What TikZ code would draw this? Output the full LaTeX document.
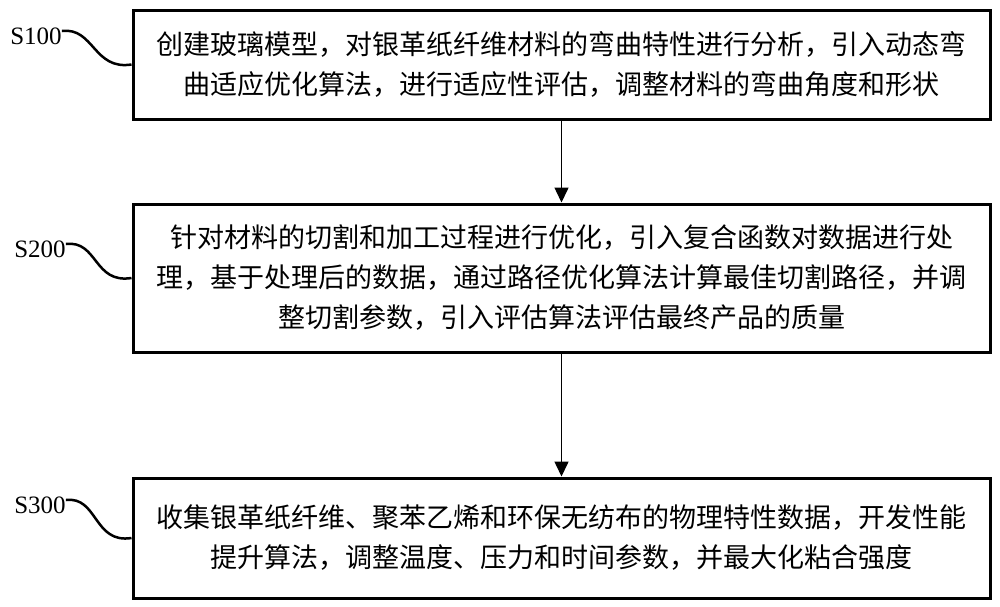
\documentclass[tikz,border=0pt]{standalone}
\usepackage{fontspec}
\setmainfont{Liberation Serif}
\newfontfamily\cjk{Noto Sans CJK SC}
\usetikzlibrary{arrows.meta}
\begin{document}
\begin{tikzpicture}[x=1pt,y=-1pt,
  stepbox/.style={draw=black, line width=3pt, minimum width=857pt, inner sep=0pt,
    align=center, font=\cjk\fontsize{27}{40}\selectfont},
  steplabel/.style={inner sep=0pt, font=\fontsize{25}{25}\selectfont},
  flow/.style={line width=1.5pt, -{Triangle[length=15pt,width=14pt]}},
  wave/.style={line width=2.5pt}]
\useasboundingbox[fill=white] (0,0) rectangle (1000,606);
\node[stepbox, minimum height=109pt] (b1) at (561.5,64.5)
  {创建玻璃模型，对银革纸纤维材料的弯曲特性进行分析，引入动态弯\\曲适应优化算法，进行适应性评估，调整材料的弯曲角度和形状};
\node[stepbox, minimum height=148pt] (b2) at (561.5,278)
  {针对材料的切割和加工过程进行优化，引入复合函数对数据进行处\\理，基于处理后的数据，通过路径优化算法计算最佳切割路径，并调\\整切割参数，引入评估算法评估最终产品的质量};
\node[stepbox, minimum height=120pt] (b3) at (561.5,538)
  {收集银革纸纤维、聚苯乙烯和环保无纺布的物理特性数据，开发性能\\提升算法，调整温度、压力和时间参数，并最大化粘合强度};
\node[steplabel] (l1) at (36,36) {S100};
\node[steplabel] (l2) at (40,249) {S200};
\node[steplabel] (l3) at (40,505) {S300};
\draw[flow] (b1) -- (b2);
\draw[flow] (b2) -- (b3);
\draw[wave] ([yshift=5pt]l1.east) .. controls +(32,-4) and +(-38,6) .. (b1.west);
\draw[wave] ([yshift=5pt]l2.east) .. controls +(32,-4) and +(-38,6) .. (b2.west);
\draw[wave] ([yshift=5pt]l3.east) .. controls +(32,-4) and +(-38,6) .. (b3.west);
\end{tikzpicture}
\end{document}
